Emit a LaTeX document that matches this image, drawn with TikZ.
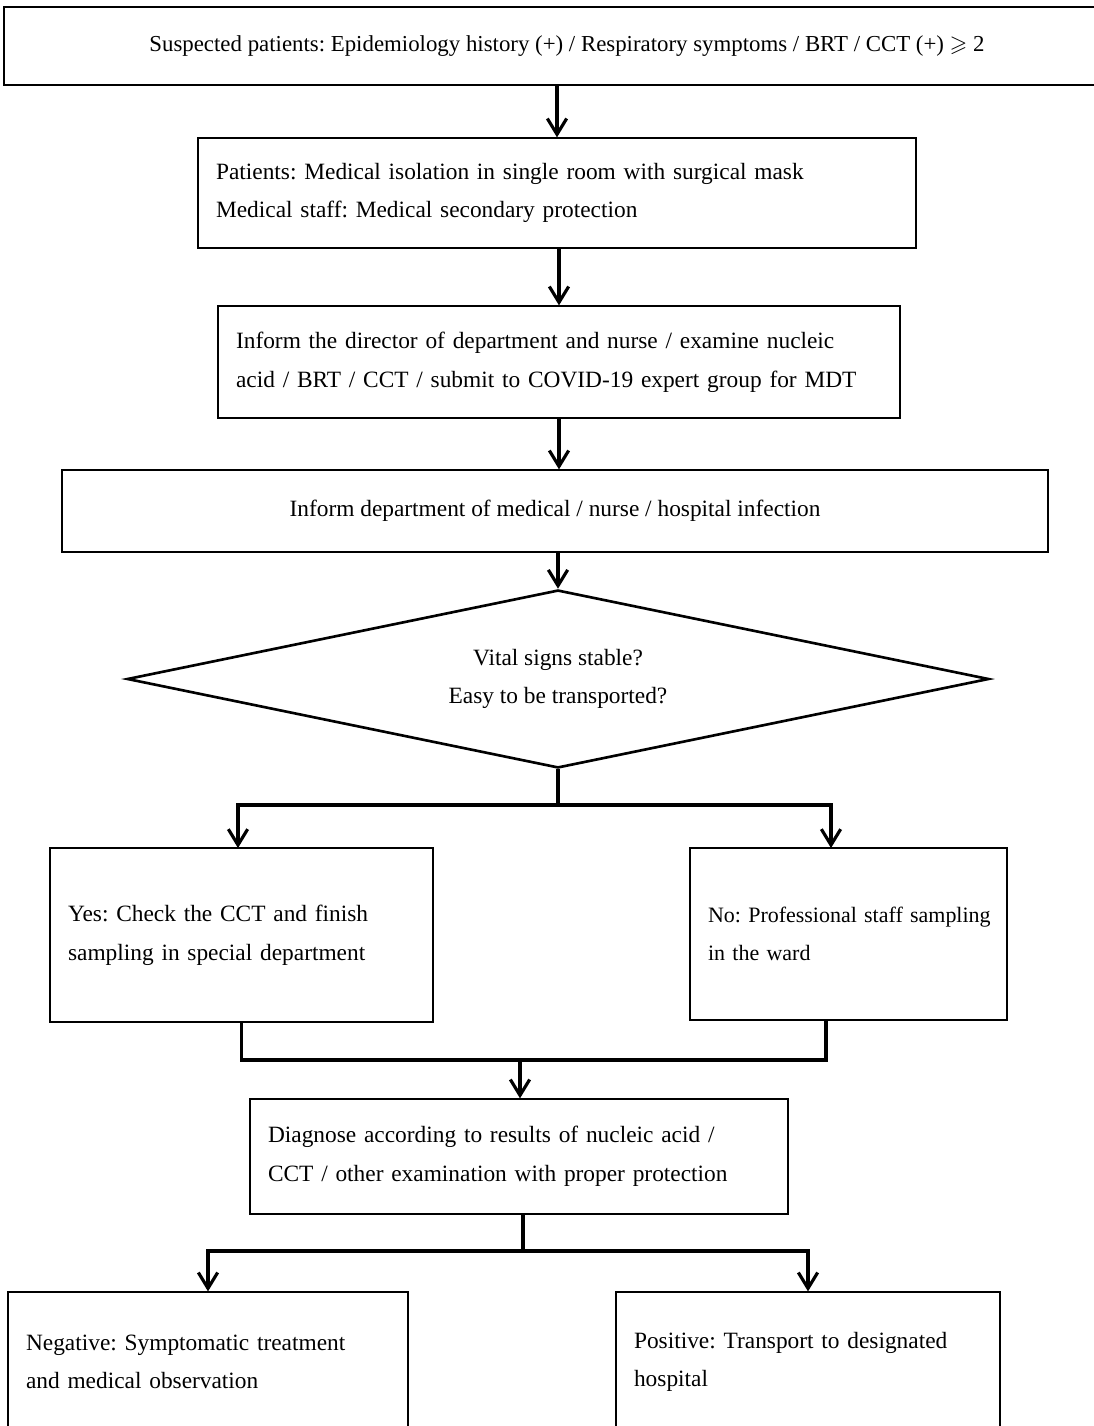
\documentclass[tikz,border=0pt]{standalone}
\usepackage{fontspec}
\setmainfont{Liberation Serif}
\usepackage{amssymb}
\usetikzlibrary{positioning,shapes.geometric,arrows.meta}

\begin{document}
\begin{tikzpicture}[x=0.02cm, y=-0.02cm,
  font=\fontsize{13.3}{22}\selectfont,
  execute at begin node={\frenchspacing\hyphenpenalty=10000\exhyphenpenalty=10000},
  stepbox/.style={draw, line width=0.75pt, inner xsep=0.36cm, align=left},
  flow/.style={line width=1.8pt, -{Straight Barb[length=9pt,width=11pt]}},
  link/.style={line width=1.8pt}]

\useasboundingbox (0,0) rectangle (1093,1426);

\node[draw, line width=0.75pt, minimum width=22.52cm, minimum height=1.56cm] (suspect) at (567,46)
  {\fontsize{13}{22}\selectfont Suspected patients: Epidemiology history (+) / Respiratory symptoms / BRT / CCT (+) $\geqslant$ 2};
\node[stepbox, text width=13.64cm, minimum height=2.2cm] (isolate) at (557,193)
  {Patients: Medical isolation in single room with surgical mask\\Medical staff: Medical secondary protection};
\node[stepbox, text width=12.92cm, minimum height=2.24cm] (inform) at (559,362)
  {Inform the director of department and nurse / examine nucleic\\acid / BRT / CCT / submit to COVID-19 expert group for MDT};
\node[draw, line width=0.75pt, minimum width=19.72cm, minimum height=1.64cm] (notify) at (555,511)
  {Inform department of medical / nurse / hospital infection};
\node[draw, diamond, aspect=4.84, inner sep=0pt, line width=1.5pt, align=center,
  minimum width=17.24cm, minimum height=3.56cm] (vital) at (558,679)
  {Vital signs stable?\\Easy to be transported?};
\node[stepbox, text width=6.94cm, minimum height=3.48cm] (yes) at (241.5,935)
  {Yes: Check the CCT and finish\\sampling in special department};
\node[stepbox, font=\fontsize{12.5}{22}\selectfont, text width=5.62cm, minimum height=3.44cm] (no) at (848.5,934)
  {\mbox{No: Professional staff sampling}\\in the ward};
\node[stepbox, text width=10.04cm, minimum height=2.3cm] (diagnose) at (519,1156.5)
  {Diagnose according to results of nucleic acid /\\CCT / other examination with proper protection};
\node[stepbox, text width=7.28cm, minimum height=2.8cm] (negative) at (208,1362)
  {Negative: Symptomatic treatment\\and medical observation};
\node[stepbox, text width=6.96cm, minimum height=2.8cm] (positive) at (808,1362)
  {Positive: Transport to designated\\hospital};

\coordinate (split) at (558,805);
\coordinate (yesin) at (238,848);
\coordinate (noin) at (831,848);
\coordinate (noout) at (826,1020);
\coordinate (merge) at (520,1060);
\coordinate (split2) at (523,1251);

\draw[flow] (suspect.south -| isolate.north) -- (isolate.north);
\draw[flow] (isolate.south -| inform.north) -- (inform.north);
\draw[flow] (inform.south) -- (inform.south |- notify.north);
\draw[flow] (notify.south -| vital.north) -- (vital.north);

\draw[link] (vital.south) -- (split);
\draw[flow] (split) -| (yesin);
\draw[flow] (split) -| (noin);

\draw[link] (yes.south) |- (merge);
\draw[link] (noout) |- (merge);
\draw[flow] (merge) -- (merge |- diagnose.north);

\draw[link] (diagnose.south -| split2) -- (split2);
\draw[flow] (split2) -| (negative.north);
\draw[flow] (split2) -| (positive.north);

\end{tikzpicture}
\end{document}
